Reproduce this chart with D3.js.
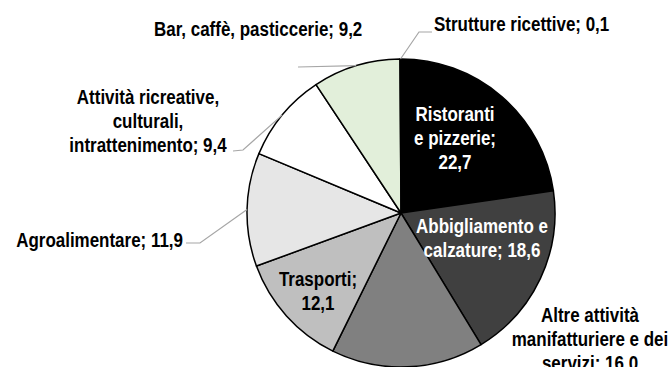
<!DOCTYPE html>
<html>
<head>
<meta charset="utf-8">
<script src="https://cdn.jsdelivr.net/npm/d3@7"></script>
<style>
  html, body { margin: 0; padding: 0; background: #fff; }
  svg { display: block; }
  text { font-family: "Liberation Sans", Arial, sans-serif; font-weight: bold; font-size: 19.5px; }
</style>
</head>
<body>
<svg id="chart" width="671" height="367"></svg>
<script>
// Sector shares (%), clockwise from 12 o'clock
const categories = [
  "Ristoranti e pizzerie",
  "Abbigliamento e calzature",
  "Altre attività manifatturiere e dei servizi",
  "Trasporti",
  "Agroalimentare",
  "Attività ricreative, culturali, intrattenimento",
  "Bar, caffè, pasticcerie",
  "Strutture ricettive"
];
const values = [22.7, 18.6, 16.0, 12.1, 11.9, 9.4, 9.2, 0.1];

// How each label's name is broken into lines (value is appended to the last line)
const labelLines = [
  ["Ristoranti", "e pizzerie;"],
  ["Abbigliamento e", "calzature;"],
  ["Altre attività", "manifatturiere e dei", "servizi;"],
  ["Trasporti;"],
  ["Agroalimentare;"],
  ["Attività ricreative,", "culturali,", "intrattenimento;"],
  ["Bar, caffè, pasticcerie;"],
  ["Strutture ricettive;"]
];
// whether the value sits on its own line
const valueOwnLine = [true, false, false, true, false, false, false, false];

const sliceFill = ["#000000", "#404040", "#808080", "#bfbfbf", "#e6e6e6", "#ffffff", "#e2efda", "#dce6f1"];
const textFill  = ["#ffffff", "#ffffff", "#000000", "#000000", "#000000", "#000000", "#000000", "#000000"];

// Label placement: x, first baseline, anchor, and leader elbows (if any)
const labelPlace = [
  { x: 455, y: 121, anchor: "middle" },
  { x: 482, y: 233, anchor: "middle" },
  { x: 590, y: 322, anchor: "middle" },
  { x: 318, y: 286, anchor: "middle" },
  { x: 183, y: 247, anchor: "end",    leader: [[200, 243], [186, 243]] },
  { x: 148, y: 104, anchor: "middle", leader: [[243, 150], [233, 151]] },
  { x: 154, y: 36,  anchor: "start",  leader: [[298, 67]] },
  { x: 434, y: 31,  anchor: "start",  leader: [[419, 32], [432, 32]] }
];

const fmt = v => d3.format(".1f")(v).replace(".", ",");

const cx = 401, cy = 213, R = 154, lineH = 24, narrow = 0.87;
const svg = d3.select("#chart");
const g = svg.append("g").attr("transform", `translate(${cx},${cy})`);

const pie = d3.pie().sort(null).value(d => d.value);
const arcs = pie(values.map((v, i) => ({ value: v, i })));
const arc = d3.arc().innerRadius(0).outerRadius(R);

g.selectAll("path.slice")
  .data(arcs)
  .join("path")
  .attr("class", "slice")
  .attr("d", arc)
  .attr("fill", d => sliceFill[d.data.i])
  .attr("stroke", "#000")
  .attr("stroke-width", 1.5)
  .attr("stroke-linejoin", "round");

// Leader lines from the rim at each slice's mid-angle
arcs.forEach(d => {
  const p = labelPlace[d.data.i];
  if (!p.leader) return;
  const a = (d.startAngle + d.endAngle) / 2;
  const start = [cx + R * Math.sin(a), cy - R * Math.cos(a)];
  svg.append("path")
    .attr("d", d3.line()([start, ...p.leader]))
    .attr("fill", "none")
    .attr("stroke", "#a6a6a6")
    .attr("stroke-width", 1.2);
});

// Labels (condensed bold face)
arcs.forEach(d => {
  const i = d.data.i;
  const p = labelPlace[i];
  const lines = labelLines[i].slice();
  if (valueOwnLine[i]) lines.push(fmt(values[i]));
  else lines[lines.length - 1] = lines[lines.length - 1] + " " + fmt(values[i]);
  const t = svg.append("text")
    .attr("transform", `translate(${p.x},${p.y}) scale(${narrow},1)`)
    .attr("text-anchor", p.anchor)
    .attr("fill", textFill[i]);
  lines.forEach((ln, k) => {
    t.append("tspan").attr("x", 0).attr("y", k * lineH).text(ln);
  });
});
</script>
</body>
</html>
